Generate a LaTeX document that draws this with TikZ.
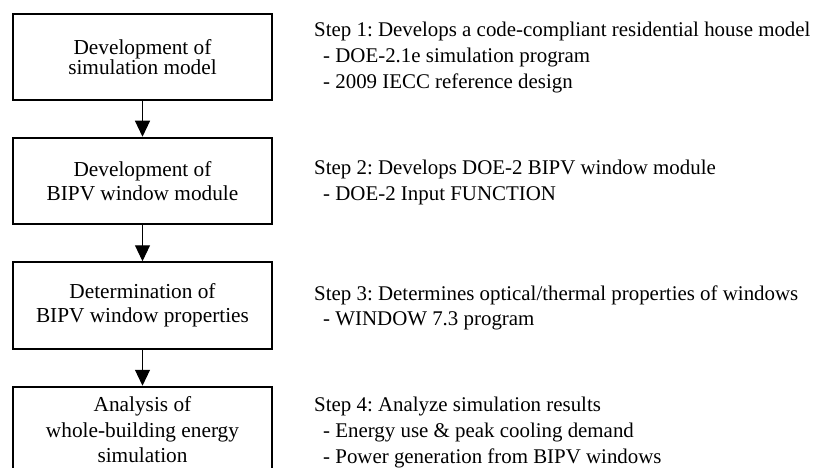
\documentclass[tikz,border=0pt]{standalone}
\usepackage{fontspec}
\setmainfont{Liberation Serif}
\usetikzlibrary{arrows.meta}
\frenchspacing
\tikzset{
  stepbox/.style={draw=black, line width=2pt, minimum width=259pt, minimum height=86.5pt,
    inner sep=0pt, align=center, font=\fontsize{21.3}{24.5}\selectfont},
  flow/.style={line width=1.1pt, -{Triangle[width=15pt,length=16pt]}},
  note/.style={anchor=base west, inner sep=0pt, align=left, font=\fontsize{20.9}{25.8}\selectfont}
}
\newcommand{\ind}{\hspace*{9pt}}
\begin{document}
\begin{tikzpicture}[x=1pt,y=-1pt]
\useasboundingbox (0,0) rectangle (828,468);
\clip (0,0) rectangle (828,468);
\fill[white] (0,0) rectangle (828,468);
\node[stepbox, font=\fontsize{21.3}{18.5}\selectfont] (b1) at (142.5,56.8) {Development of\\simulation model};
\node[stepbox] (b2) at (142.5,181) {Development of\\BIPV window module};
\node[stepbox] (b3) at (142.5,305.5) {Determination of\\BIPV window properties};
\node[stepbox, font=\fontsize{21.3}{25.5}\selectfont] (b4) at (142.5,430) {Analysis of\\whole-building energy\\simulation};
\draw[flow] (b1.south) -- (b2.north);
\draw[flow] (b2.south) -- (b3.north);
\draw[flow] (b3.south) -- (b4.north);
\node[note] (t1) at (314,88.6) {Step 1: Develops a code-compliant residential house model\\\ind- DOE-2.1e simulation program\\\ind- 2009 IECC reference design};
\node[note] (t2) at (314,200.8) {Step 2: Develops DOE-2 BIPV window module\\\ind- DOE-2 Input FUNCTION};
\node[note] (t3) at (314,325.8) {Step 3: Determines optical/thermal properties of windows\\\ind- WINDOW 7.3 program};
\node[note] (t4) at (314,463) {Step 4: Analyze simulation results\\\ind- Energy use \& peak cooling demand\\\ind- Power generation from BIPV windows};
\end{tikzpicture}
\end{document}
